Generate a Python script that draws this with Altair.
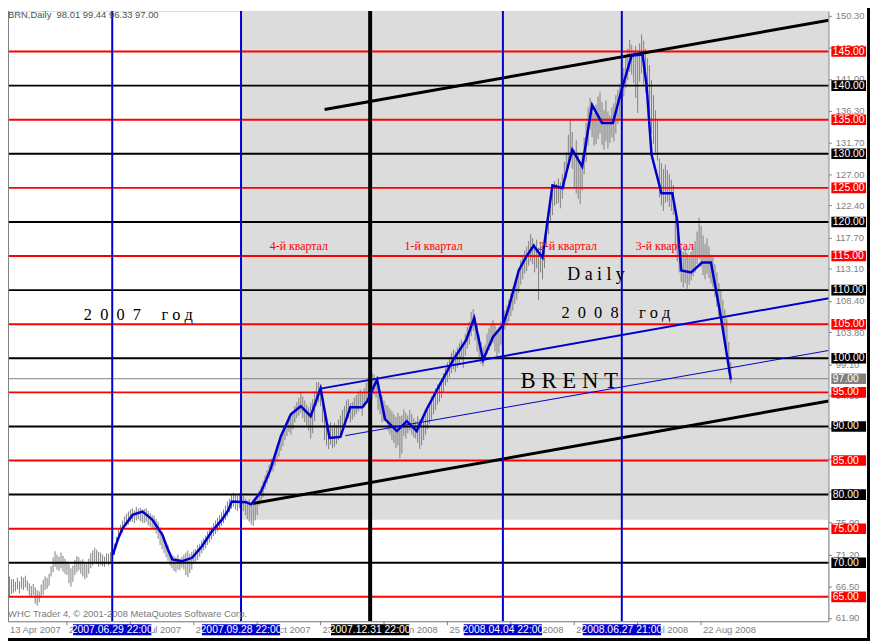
import altair as alt
import pandas as pd

# ---------------- data ----------------
highs = [
    69.5, 69.2, 68.8, 68.0, 67.6, 67.6, 67.2, 67.8, 67.3, 68.0, 67.8, 68.1, 67.4,
    67.0, 66.6, 66.9, 66.4, 66.0, 65.8, 66.8, 67.5, 68.0, 67.8, 68.4,
    69.5, 70.8, 71.7, 71.2, 70.9, 71.5, 71.0, 70.6, 70.2, 69.8, 69.2, 69.6,
    70.4, 71.0, 70.8, 70.3, 70.5, 70.1, 69.8, 70.6, 71.4, 71.8, 72.2, 71.9, 71.6,
    71.5, 71.2, 70.9, 71.4, 71.3, 71.6,
    72.0, 72.8, 73.8, 74.8, 75.6, 76.2, 76.8, 77.2, 77.5, 77.8,
    78.0, 77.7, 78.2, 77.9, 78.1, 77.8, 77.9, 78.0, 77.6, 77.3, 77.0,
    76.9, 76.4, 76.0, 75.2, 74.6, 73.8, 73.0, 72.6, 71.6, 71.2,
    71.0, 70.8, 71.2, 70.6, 70.9, 71.2, 71.5, 71.8, 71.3, 71.6,
    71.9, 72.0, 72.6, 72.8, 73.3, 73.6, 74.0, 74.6, 75.0, 75.2,
    75.8, 76.2, 76.6, 77.0, 77.4, 77.8, 78.4, 79.0, 79.4, 80.0,
    80.3, 80.0, 79.8, 80.2, 80.4,
    79.8, 79.4, 79.0, 79.3, 78.6, 78.8, 79.2, 79.8, 80.6, 81.2, 82.0,
    82.8, 83.6, 84.4, 85.3, 85.0, 86.0, 87.2,
    87.6, 88.4, 89.2, 90.1, 90.6, 91.5, 91.2, 92.0, 93.0, 93.6,
    94.2, 95.0, 94.4, 93.8, 93.2, 92.8, 93.5, 94.0, 95.2, 96.5,
    96.5, 96.0, 94.0, 92.0, 91.2, 90.3, 90.6, 89.8, 90.5, 90.2, 91.0, 91.6, 92.4,
    93.0, 93.8, 94.0, 93.4, 93.6, 94.2, 94.6, 95.0, 95.4, 95.0, 95.6, 96.4, 97.2,
    98.0,
    97.9, 97.6, 97.0, 95.9, 95.2, 94.6, 93.8, 93.2,
    93.0, 92.6, 92.2, 91.8, 91.4, 92.0, 91.5, 91.6,
    92.5, 92.0, 91.6, 92.4, 91.8, 91.2, 90.8, 91.5, 91.0, 90.6, 91.3, 92.0,
    92.8, 93.6, 94.4, 95.0, 95.6, 96.2, 96.5, 97.0,
    97.8, 98.6, 99.4, 100.2, 100.8, 101.3, 101.0, 101.6, 102.2, 102.7, 102.4, 103.6,
    104.6, 105.4, 106.8, 107.2, 106.0, 105.0, 103.4, 102.4, 101.6, 102.0,
    103.6, 104.4, 105.0, 105.6, 104.8, 104.2, 104.6, 105.4, 106.0,
    107.0, 107.8, 108.6, 109.5, 110.4, 111.2, 112.0, 113.2, 114.4, 115.2, 115.8,
    116.4, 117.2, 118.2, 117.6, 116.8, 117.4, 116.2, 117.0, 116.4, 117.8,
    119.5, 121.0, 123.0, 124.2, 126.0, 125.6, 126.4, 125.8, 127.0,
    128.8, 130.2, 132.8, 135.0, 133.2, 130.6, 132.0, 129.8, 128.4, 130.0,
    132.4, 134.6, 136.8, 138.2, 137.4, 136.0,
    137.2, 138.4, 139.0, 137.6, 136.4, 137.8, 136.2, 135.6, 136.8, 137.4, 138.6, 139.4, 140.2,
    142.0,
    142.6, 144.2, 145.4, 146.7, 146.0, 145.2, 145.8, 144.6, 146.2, 147.5, 146.6, 145.4, 144.0,
    143.0, 140.8, 138.6, 136.4, 134.8, 129.3, 128.6, 127.8, 128.4, 127.6, 127.0, 126.2, 125.4,
    120.6, 118.8, 117.4, 116.2, 115.6, 116.0, 115.4, 114.8, 115.6, 116.4,
    117.2, 118.6, 120.6, 119.4, 118.0, 116.8, 117.6, 116.4, 115.2, 114.8,
    113.8, 112.6, 111.0, 110.0, 108.6, 107.2, 105.8, 102.4, 99.44,
]
lows = [
    67.8, 67.5, 66.8, 65.0, 65.4, 65.6, 65.8, 66.1, 65.5, 66.2, 66.0, 66.4, 65.9,
    65.2, 65.0, 65.3, 64.0, 63.7, 64.2, 65.0, 65.3, 66.0, 66.2, 66.6,
    68.0, 68.6, 69.4, 69.0, 68.8, 69.2, 68.7, 68.4, 68.2, 67.0, 66.5, 67.2,
    68.2, 68.6, 68.9, 68.4, 68.0, 67.6, 67.8, 68.4, 69.2, 69.6, 70.0, 69.8, 69.4,
    69.7, 69.5, 69.4, 69.8, 69.6, 69.9,
    70.6, 71.2, 72.3, 73.2, 74.0, 74.4, 75.0, 75.4, 75.6, 76.0,
    76.0, 75.8, 76.2, 76.4, 76.1, 75.9, 75.8, 76.0, 75.5, 75.3, 75.1,
    74.8, 74.3, 73.5, 72.6, 72.0, 71.4, 70.8, 70.3, 69.6, 69.2,
    68.8, 68.6, 69.0, 68.9, 69.3, 69.0, 68.2, 67.9, 68.5, 69.0,
    69.8, 70.2, 70.4, 70.9, 71.4, 71.8, 72.1, 72.6, 73.0, 73.4,
    73.9, 74.2, 74.6, 75.0, 75.4, 75.8, 76.3, 76.8, 77.4, 77.9,
    78.2, 77.8, 77.6, 78.0, 78.3,
    77.6, 77.0, 76.4, 76.0, 75.6, 75.4, 76.2, 77.0, 78.4, 79.0, 79.6,
    80.8, 81.6, 82.4, 83.8, 83.4, 84.2, 85.0,
    85.6, 86.4, 87.1, 88.0, 88.6, 89.2, 88.8, 89.6, 90.6, 91.2,
    91.6, 92.0, 91.2, 90.6, 90.2, 89.4, 88.2, 89.0, 90.8, 93.0,
    93.5, 93.0, 90.6, 88.0, 87.2, 86.7, 87.3, 86.8, 87.0, 87.4, 88.0, 88.6, 89.2,
    90.2, 90.8, 91.2, 90.6, 91.0, 91.4, 91.8, 92.2, 92.6, 91.5, 92.8, 93.4, 94.2,
    94.5,
    94.0, 94.6, 94.2, 92.4, 91.8, 90.6, 90.8, 91.0,
    89.4, 88.8, 88.0, 87.6, 86.8, 87.2, 85.3, 86.0,
    88.6, 88.2, 89.0, 89.4, 88.8, 88.4, 88.2, 87.6, 86.7, 87.2, 88.0, 88.8,
    89.6, 90.4, 91.0, 91.8, 92.4, 93.2, 93.6, 94.2,
    95.0, 96.0, 96.5, 97.2, 97.8, 98.4, 98.0, 98.6, 99.2, 99.8, 98.6, 100.4,
    101.4, 102.0, 103.2, 104.0, 102.6, 101.0, 100.2, 99.2, 98.8, 99.6,
    100.6, 101.2, 101.8, 102.2, 101.0, 100.2, 100.8, 102.0, 103.4,
    104.2, 104.8, 105.4, 106.2, 107.0, 108.0, 108.6, 109.6, 110.8, 111.6, 112.4,
    112.8, 113.6, 114.2, 113.8, 112.6, 113.2, 108.5, 112.6, 111.6, 113.2,
    116.4, 118.2, 120.0, 121.0, 122.4, 122.6, 122.8, 122.0, 123.4,
    124.8, 126.4, 128.0, 129.6, 127.8, 125.0, 124.2, 123.4, 122.6, 124.6,
    127.0, 128.8, 131.2, 133.6, 132.4, 131.2,
    131.4, 132.2, 133.0, 131.3, 130.6, 131.8, 130.8, 131.6, 132.4, 131.8, 133.0, 134.4, 135.0,
    134.6,
    138.4, 139.6, 140.8, 142.0, 141.6, 140.4, 138.2, 136.0, 140.6, 141.8, 140.2, 139.0, 137.4,
    135.6, 133.0, 131.4, 130.2, 129.0, 123.6, 122.4, 121.6, 122.8, 123.0, 122.2, 121.6, 121.0,
    115.8, 114.2, 112.6, 111.2, 110.4, 111.0, 110.2, 110.8, 111.4, 112.0,
    112.6, 113.8, 114.6, 113.4, 112.2, 111.6, 112.4, 111.8, 111.0, 110.4,
    109.0, 107.6, 106.0, 104.8, 103.8, 102.6, 101.4, 97.8, 96.33,
]

# blue hand-drawn price path: bar index, price
path_i = [55.15, 57.65, 60.15, 65.15, 70.15, 75.15, 80.15, 82.65, 85.15, 90.15, 95.15,
          100.15, 105.15, 110.15, 113.5, 115.15, 122.5, 125, 130, 134.5, 140, 145, 150,
          155, 160, 164.5, 170, 175, 181, 183.5, 188.5, 192.5, 198.5, 203.5, 208.5, 213.5,
          227, 233.5, 237.5, 242, 247, 252, 255, 260, 263.5, 267.5, 272, 274.5, 277, 282,
          287, 292, 297, 302, 307.5, 312, 317, 322.5, 324.5, 327, 332, 337.5, 340, 342,
          347, 352.5, 357, 362, 367]
path_p = [71.16, 73.4, 75.09, 77.02, 77.51, 76.29, 74.11, 72.18, 70.48, 70.24, 70.73,
          72.43, 74.61, 76.29, 77.75, 78.97, 78.87, 78.57, 80.47, 83.52, 88.60, 91.80, 92.97,
          91.51, 95.58, 88.31, 88.46, 92.82, 92.82, 93.69, 96.89, 91.08, 89.33, 90.78, 89.33, 92.53,
          99.80, 102.70, 105.90, 99.80, 103.14, 104.88, 107.50, 112.88, 114.77, 116.51, 114.77,
          120.15, 125.38, 124.94, 130.61, 128.14, 137.15, 134.53, 134.53, 139.48, 144.42, 144.56,
          140.06, 129.88, 124.22, 124.22, 120.15, 112.88, 112.59, 114.04, 114.04, 106.05, 96.89]

red_levels = [145, 135, 125, 115, 105, 95, 85, 75, 65]
black_levels = [140, 130, 120, 110, 100, 90, 80, 70]
bid_price = 97.00
header_text = "BRN,Daily\u00a0\u00a098.01 99.44 96.33 97.00"
footer_text = "WHC Trader 4, \u00a9 2001-2008 MetaQuotes Software Corp."

sep_pos = [54.85, 119.85, 185, 252, 312]
sep_text = ["2007.06.29 22:00", "2007.09.28 22:00", "2007.12.31 22:00",
            "2008.04.04 22:00", "2008.06.27 21:00"]
sep_kind = ["blue", "blue", "black", "blue", "blue"]

tick_pos = [0, 32, 64, 96, 128, 160, 192, 224, 256, 288, 320, 352]
tick_text = ["13 Apr 2007", "29 May 2007", "12 Jul 2007", "27 Aug 2007", "10 Oct 2007",
             "23 Nov 2007", "10 Jan 2008", "25 Feb 2008", "08 Apr 2008", "26 May 2008",
             "09 Jul 2008", "22 Aug 2008"]
right_ticks = [150.30, 145.60, 141.00, 136.30, 131.70, 127.00, 122.40, 117.70, 113.10,
               108.40, 103.80, 99.10, 94.50, 89.80, 85.20, 80.50, 75.90, 71.20, 66.50, 61.90]

shade_from = 119.85
shade_bottom = 76.3

trend_from_i = [126, 162, 160, 172.5]
trend_from_p = [78.7, 136.5, 95.55, 88.65]
trend_to_i = [416.5, 416.5, 416.5, 416.5]
trend_to_p = [93.75, 149.6, 108.8, 101.15]
trend_kind = ["black", "black", "blue", "bluethin"]

# ---------------- styling ----------------
W, H = 828, 616
X_DOM = [2.25, 416.25]
Y_DOM = [61.42, 150.96]
BLUE = "#0000CD"
RED = "#FF0000"
GRAY = "#808080"
FONT = "Liberation Sans"
SERIF = "Liberation Serif"
NB = "\u00a0"

xs = alt.Scale(domain=X_DOM, nice=False, zero=False)
ys = alt.Scale(domain=Y_DOM, nice=False, zero=False)
yaxis = alt.Axis(orient="right", values=right_ticks, format=".2f", title=None, grid=False,
                 labelFont=FONT, labelFontSize=9.5, labelColor=GRAY, tickColor=GRAY, tickSize=3,
                 domainColor=GRAY, labelPadding=4, labelOverlap=False)


def X(f):
    return alt.X(f, type="quantitative", scale=xs, axis=None)


def Y(f):
    return alt.Y(f, type="quantitative", scale=ys, axis=yaxis)


kind_color = {"blue": BLUE, "black": "#000000", "bluethin": BLUE}
kind_width = {"blue": 2, "black": 3, "bluethin": 1}

bars_df = pd.DataFrame({"i": list(range(len(highs))), "hi": highs, "lo": lows})
path_df = pd.DataFrame({"i": path_i, "p": path_p})
lev_df = pd.DataFrame({
    "v": red_levels + black_levels + [bid_price],
    "c": [RED] * len(red_levels) + ["#000000"] * len(black_levels) + [GRAY],
})
lev_df["label"] = lev_df["v"].map(lambda v: f"{v:.2f}")
lev_df["top"] = lev_df["v"] + 0.78
lev_df["bot"] = lev_df["v"] - 0.78
main_lev = lev_df[lev_df["c"] != GRAY]
bid_df = lev_df[lev_df["c"] == GRAY]

sep_df = pd.DataFrame({"p": sep_pos, "t": sep_text,
                       "c": [kind_color[k] for k in sep_kind],
                       "w": [2 if k == "blue" else 4 for k in sep_kind]})
sep_df["a"] = sep_df["p"] - 19.75
sep_df["b"] = sep_df["p"] + 19.75

tick_df = pd.DataFrame({"t": tick_pos, "txt": tick_text})
tick_df["lx"] = tick_df["t"].clip(lower=X_DOM[0])

trend_df = pd.DataFrame({"i1": trend_from_i, "p1": trend_from_p, "i2": trend_to_i, "p2": trend_to_p,
                         "c": [kind_color[k] for k in trend_kind],
                         "w": [kind_width[k] for k in trend_kind]})

shade_df = pd.DataFrame({"x1": [shade_from], "x2": [X_DOM[1]], "y1": [shade_bottom], "y2": [Y_DOM[1]]})

spaced_2007 = (NB * 2).join("2007") + NB * 5 + NB.join("год")
spaced_2008 = (NB * 2).join("2008") + NB * 5 + NB.join("год")
ann_df = pd.DataFrame({
    "t": ["4-й квартал", "1-й квартал", "2-й квартал", "3-й квартал",
          NB.join("Daily"), spaced_2007, spaced_2008, NB.join("BRENT")],
    "i": [149, 217, 284.75, 333.75, 299, 68, 309, 285.5],
    "p": [116.5, 116.5, 116.5, 116.5, 112.15, 106.34, 106.63, 96.6],
    "s": [12, 12, 12, 12, 18, 16.5, 16.5, 23],
    "c": [RED, RED, RED, RED, "#000000", "#000000", "#000000", "#000000"],
})

# ---------------- layers ----------------
shade = alt.Chart(shade_df).mark_rect(color="#DCDCDC", clip=True).encode(
    x=X("x1"), x2="x2", y=Y("y1"), y2="y2")

bars = alt.Chart(bars_df).mark_rule(color=GRAY, strokeWidth=1, clip=True).encode(
    x=X("i"), y=Y("lo"), y2="hi")

hlines = alt.Chart(main_lev).mark_rule(strokeWidth=2).encode(
    y=Y("v"), x=alt.value(0), x2=alt.value(W), color=alt.Color("c", scale=None))

bidline = alt.Chart(bid_df).mark_rule(strokeWidth=1, color=GRAY).encode(
    y=Y("v"), x=alt.value(0), x2=alt.value(W))

vlines = alt.Chart(sep_df).mark_rule().encode(
    x=X("p"), y=alt.value(0), y2=alt.value(H),
    color=alt.Color("c", scale=None), strokeWidth=alt.StrokeWidth("w", scale=None))

trends = alt.Chart(trend_df).mark_rule(clip=True).encode(
    x=X("i1"), x2="i2", y=Y("p1"), y2="p2",
    color=alt.Color("c", scale=None), strokeWidth=alt.StrokeWidth("w", scale=None))

path = alt.Chart(path_df).mark_line(color=BLUE, strokeWidth=2.5, clip=True).encode(
    x=X("i"), y=Y("p"))

ann = alt.Chart(ann_df).mark_text(font=SERIF, baseline="middle", align="center").encode(
    x=X("i"), y=Y("p"), text="t", color=alt.Color("c", scale=None),
    size=alt.Size("s", scale=None))

left_border = alt.Chart(shade_df).mark_rule(color=GRAY, strokeWidth=1).encode(
    x=alt.value(0.5), y=alt.value(0), y2=alt.value(H))
bottom_axis = alt.Chart(shade_df).mark_rule(color=GRAY, strokeWidth=1).encode(
    y=alt.value(H + 0.5), x=alt.value(0), x2=alt.value(W))
xticks = alt.Chart(tick_df).mark_rule(color=GRAY, strokeWidth=1).encode(
    x=X("t"), y=alt.value(H), y2=alt.value(H + 4))
xlabels = alt.Chart(tick_df).mark_text(font=FONT, fontSize=9.5, color=GRAY, align="left",
                                       baseline="middle", dx=2).encode(
    x=X("lx"), y=alt.value(H + 8.5), text="txt")

date_boxes = alt.Chart(sep_df).mark_rect().encode(
    x=X("a"), x2="b", y=alt.value(H + 3), y2=alt.value(H + 14),
    color=alt.Color("c", scale=None))
date_text = alt.Chart(sep_df).mark_text(font=FONT, fontSize=10.5, color="white",
                                        align="center", baseline="middle").encode(
    x=X("p"), y=alt.value(H + 9), text="t")

lev_boxes = alt.Chart(lev_df).mark_rect().encode(
    y=Y("top"), y2="bot", x=alt.value(W + 3), x2=alt.value(W + 38),
    color=alt.Color("c", scale=None))
lev_text = alt.Chart(lev_df).mark_text(font=FONT, fontSize=10.5, color="white",
                                       align="left", baseline="middle").encode(
    y=Y("v"), x=alt.value(W + 4.5), text="label")

header = alt.Chart(pd.DataFrame({"t": [header_text]})).mark_text(
    font=FONT, fontSize=9.5, color="#505050", align="left", baseline="middle").encode(
    x=alt.value(0), y=alt.value(4), text="t")
footer = alt.Chart(pd.DataFrame({"t": [footer_text]})).mark_text(
    font=FONT, fontSize=9.5, color="#7a7a7a", align="left", baseline="middle").encode(
    x=alt.value(0), y=alt.value(H - 7), text="t")

frame_r = alt.Chart(shade_df).mark_rule(color="#000000", strokeWidth=3).encode(
    x=alt.value(W + 40.5), y=alt.value(-8), y2=alt.value(H + 20))
frame_b = alt.Chart(shade_df).mark_rule(color="#000000", strokeWidth=3).encode(
    y=alt.value(H + 18.5), x=alt.value(-8), x2=alt.value(W + 42))

chart = alt.layer(
    shade, bars, hlines, bidline, trends, vlines, path, ann,
    left_border, bottom_axis, xticks, xlabels, date_boxes, date_text,
    lev_boxes, lev_text, header, footer, frame_r, frame_b,
).properties(
    width=W, height=H,
    autosize=alt.AutoSizeParams(type="none"),
    padding={"left": 0, "top": 0, "right": 42, "bottom": 20},
).configure_view(stroke=None).configure(background="white")

chart.save("out.html", embed_options={"renderer": "svg", "actions": False})
